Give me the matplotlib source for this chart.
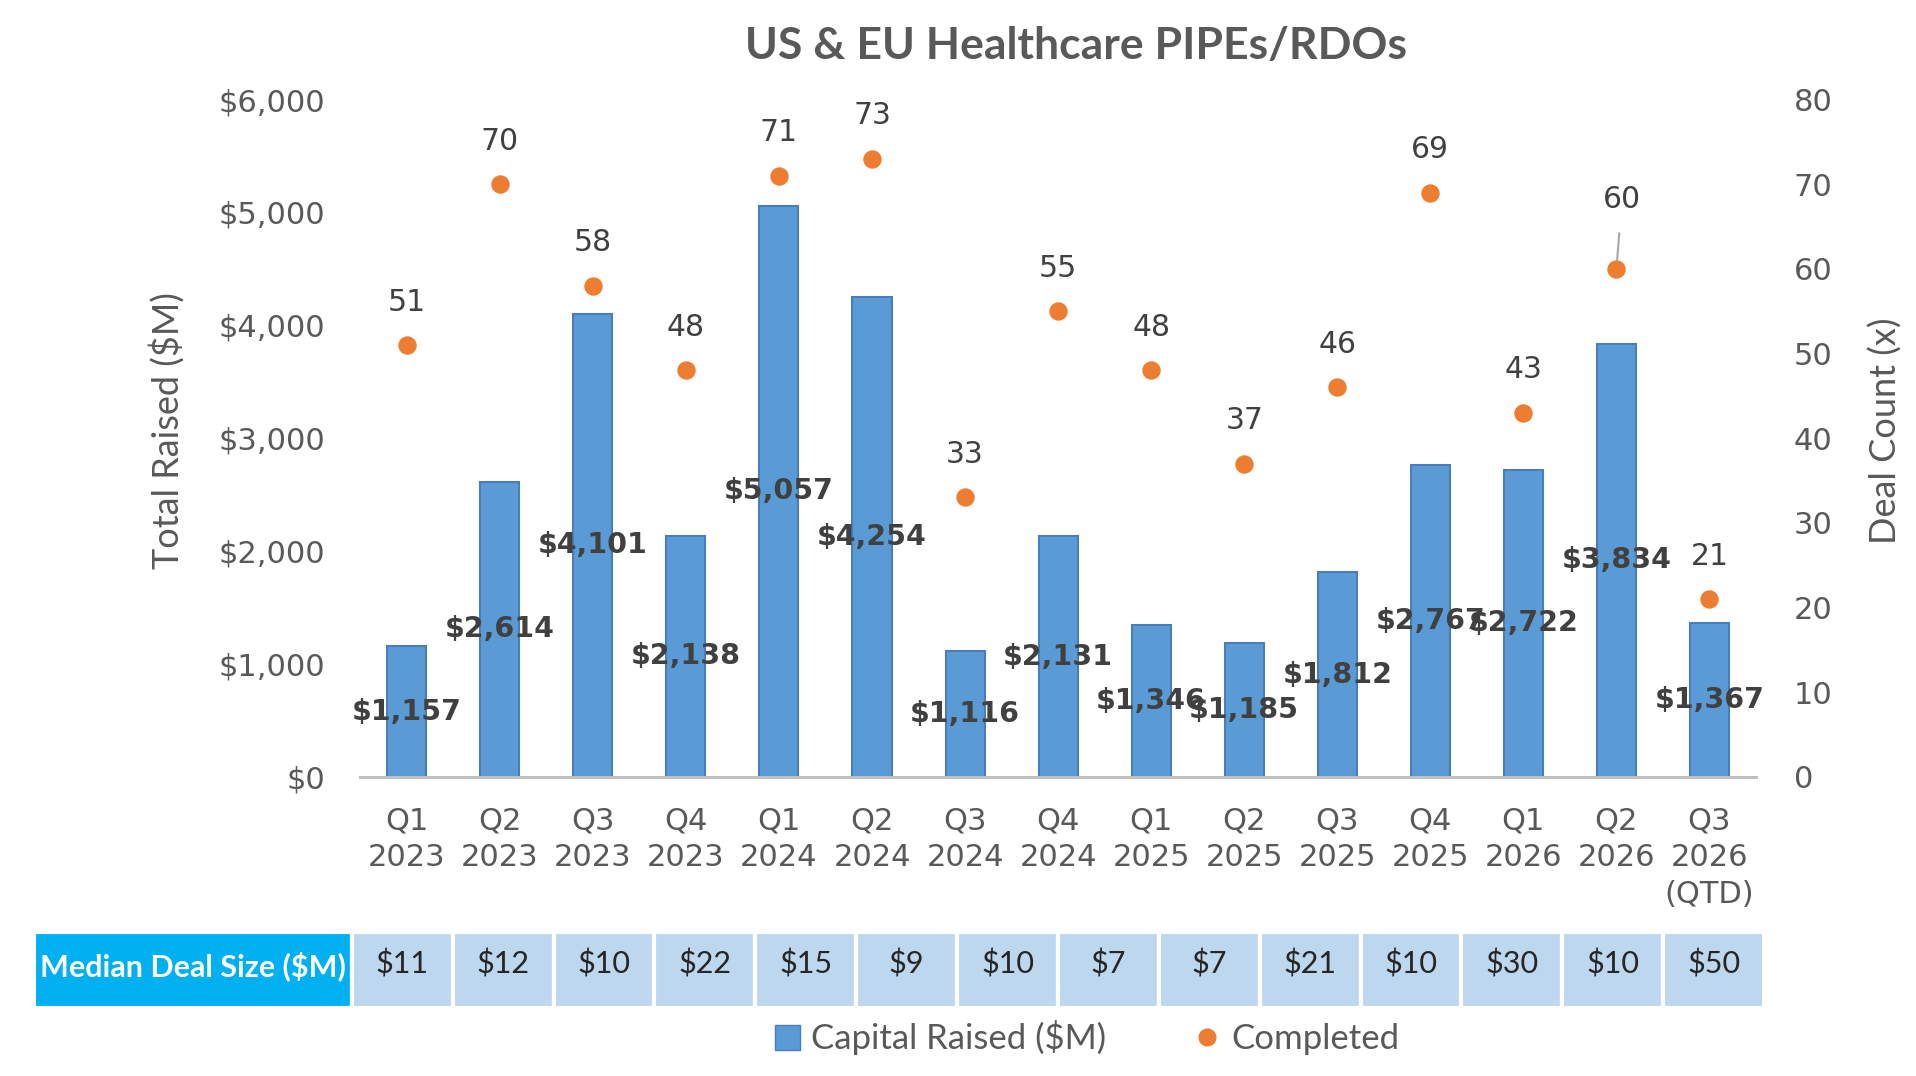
import numpy as np
import matplotlib.pyplot as plt
from matplotlib.patches import Rectangle
from matplotlib.lines import Line2D

quarters = ["Q1\n2023", "Q2\n2023", "Q3\n2023", "Q4\n2023", "Q1\n2024", "Q2\n2024", "Q3\n2024",
            "Q4\n2024", "Q1\n2025", "Q2\n2025", "Q3\n2025", "Q4\n2025", "Q1\n2026", "Q2\n2026",
            "Q3\n2026\n(QTD)"]
capital_raised = [1157, 2614, 4101, 2138, 5057, 4254, 1116, 2131, 1346, 1185, 1812, 2767, 2722, 3834, 1367]
deal_count = [51, 70, 58, 48, 71, 73, 33, 55, 48, 37, 46, 69, 43, 60, 21]
median_deal = ["$11", "$12", "$10", "$22", "$15", "$9", "$10", "$7", "$7", "$21", "$10", "$30", "$10", "$50"]

blue = '#5B9BD5'
blue_edge = '#4A7EBB'
orange = '#ED7D31'
txt = '#404040'
grey = '#595959'
lato = ['Lato', 'DejaVu Sans']

fig = plt.figure(figsize=(19.16, 10.76), dpi=100)
ax = fig.add_axes([0.188, 0.278, 0.7285, 0.6295])
ax2 = ax.twinx()

x = np.arange(len(quarters))
bars = ax.bar(x, capital_raised, width=0.42, color=blue, edgecolor=blue_edge, linewidth=1.5, zorder=2)
ax.bar_label(bars, labels=[f"${v:,}" for v in capital_raised], label_type='center',
             fontsize=20.5, fontweight='bold', color=txt, zorder=5)

ax2.scatter(x, deal_count, s=150, color=orange, zorder=3)
for i, d in enumerate(deal_count):
    if i == 13:
        # this label was dragged up in the original, with a leader line
        ax2.annotate(str(d), (x[i], d), xytext=(4, 50), textcoords='offset points',
                     ha='center', va='center', fontsize=21.5, color=txt,
                     arrowprops=dict(arrowstyle='-', color='#A6A6A6', lw=1.5, shrinkA=12, shrinkB=6))
    else:
        ax2.annotate(str(d), (x[i], d), xytext=(0, 31), textcoords='offset points',
                     ha='center', va='center', fontsize=21.5, color=txt)

ax.set_xlim(-0.5, len(quarters) - 0.5)
ax.set_ylim(0, 6000)
ax2.set_ylim(0, 80)
ax.set_yticks(np.arange(0, 6001, 1000))
ax.set_yticklabels([f"${v:,}" for v in range(0, 6001, 1000)])
ax2.set_yticks(np.arange(0, 81, 10))
ax.set_xticks(x)
ax.set_xticklabels(quarters, linespacing=1.35)

for a in (ax, ax2):
    for pos in ['top', 'left', 'right']:
        a.spines[pos].set_visible(False)
    a.spines['bottom'].set_color('#BFBFBF')
    a.spines['bottom'].set_linewidth(2)
    a.tick_params(length=0, labelsize=22, labelcolor=grey)
ax.tick_params(axis='y', pad=25)
ax2.tick_params(axis='y', pad=27)
ax.tick_params(axis='x', pad=21)

fig.text(0.087, 0.600, "Total Raised ($M)", rotation=90, ha='center', va='center',
         fontsize=26, color=grey, family=lato)
fig.text(0.984, 0.600, "Deal Count (x)", rotation=90, ha='center', va='center',
         fontsize=26, color=grey, family=lato)
fig.text(0.5616, 0.957, "US & EU Healthcare PIPEs/RDOs", ha='center', va='center',
         fontsize=32, fontweight='bold', color=grey, family=lato)

# median deal size strip
tab = fig.add_axes([34 / 1916, 68 / 1076, 1730 / 1916, 76 / 1076])
head_w = 3.15
n = len(median_deal)
tab.set_xlim(0, head_w + n)
tab.set_ylim(0, 1)
tab.axis('off')
tab.add_patch(Rectangle((0, 0), head_w + n, 1, facecolor='none', edgecolor='#E3E3E3', lw=2))
tab.add_patch(Rectangle((0, 0), head_w, 1, facecolor='#00B0F0', edgecolor='white', lw=3))
tab.text(head_w / 2, 0.55, "Median Deal Size ($M)", ha='center', va='center', fontsize=22,
         fontweight='bold', color='white', family=lato)
for i, m in enumerate(median_deal):
    tab.add_patch(Rectangle((head_w + i, 0), 1, 1, facecolor='#BDD7EE', edgecolor='white', lw=3))
    tab.text(head_w + i + 0.5, 0.58, m, ha='center', va='center', fontsize=22,
             color='#262626', family=lato)

handles = [Line2D([], [], marker='s', ls='none', markersize=18, markerfacecolor=blue, markeredgecolor=blue_edge),
           Line2D([], [], marker='o', ls='none', markersize=12, color=orange)]
fig.legend(handles, ["Capital Raised ($M)", "Completed"], loc='center', bbox_to_anchor=(0.567, 0.036),
           ncol=2, frameon=False, prop={'family': lato, 'size': 25}, labelcolor=grey,
           handletextpad=0.3, columnspacing=2.5, handlelength=0.8)

fig.savefig('out.png', dpi=100)
